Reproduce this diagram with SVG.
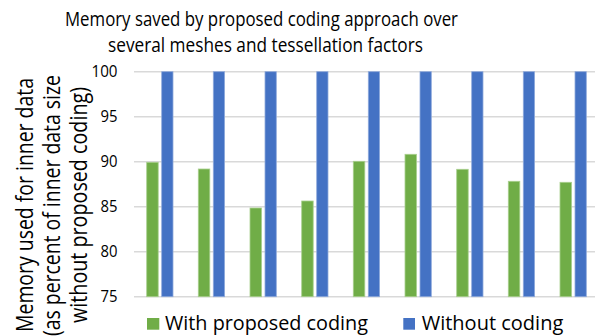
<svg xmlns="http://www.w3.org/2000/svg" width="595" height="336" viewBox="0 0 595 336">
<style>
text{font-family:"Open Sans","Noto Sans","Liberation Sans",sans-serif;fill:#000}
.title{font-size:20px}
.tick{font-size:16px;text-anchor:end}
.axt{font-size:23.5px;text-anchor:middle}
.leg{font-size:20.5px}
.grid{stroke:#D9D9D9;stroke-width:1.5}
.g{fill:#70AD47;stroke:#A9CF8E;stroke-width:0.8}
.b{fill:#4472C4;stroke:#8FAADC;stroke-width:0.8}
</style>
<rect width="595" height="336" fill="#fff"/>
<g id="title">
<text class="title" x="65" y="25.5" textLength="393" lengthAdjust="spacingAndGlyphs">Memory saved by proposed coding approach over</text>
<text class="title" x="108" y="51.5" textLength="315" lengthAdjust="spacingAndGlyphs">several meshes and tessellation factors</text>
</g>
<g id="gridlines">
<line class="grid" x1="134" y1="71.7" x2="595" y2="71.7"/>
<line class="grid" x1="134" y1="116.7" x2="595" y2="116.7"/>
<line class="grid" x1="134" y1="161.7" x2="595" y2="161.7"/>
<line class="grid" x1="134" y1="206.7" x2="595" y2="206.7"/>
<line class="grid" x1="134" y1="251.7" x2="595" y2="251.7"/>
<line class="grid" x1="134" y1="296.7" x2="595" y2="296.7"/>
</g>
<g id="y-axis">
<text class="tick" x="117.5" y="77.3" textLength="26" lengthAdjust="spacingAndGlyphs">100</text>
<text class="tick" x="117.5" y="122.3" textLength="17" lengthAdjust="spacingAndGlyphs">95</text>
<text class="tick" x="117.5" y="167.3" textLength="17" lengthAdjust="spacingAndGlyphs">90</text>
<text class="tick" x="117.5" y="212.3" textLength="17" lengthAdjust="spacingAndGlyphs">85</text>
<text class="tick" x="117.5" y="257.3" textLength="17" lengthAdjust="spacingAndGlyphs">80</text>
<text class="tick" x="117.5" y="302.3" textLength="17" lengthAdjust="spacingAndGlyphs">75</text>
<g id="y-axis-title">
<text class="axt" transform="translate(33 205) rotate(-90)" textLength="254" lengthAdjust="spacingAndGlyphs">Memory used for inner data</text>
<text class="axt" transform="translate(60 205.5) rotate(-90)" textLength="261" lengthAdjust="spacingAndGlyphs">(as percent of inner data size</text>
<text class="axt" transform="translate(87 205) rotate(-90)" textLength="236" lengthAdjust="spacingAndGlyphs">without proposed coding)</text>
</g>
</g>
<g id="series-with-coding">
<rect class="g" x="146.7" y="162.3" width="11.5" height="134.4"/>
<rect class="g" x="198.3" y="169" width="11.5" height="127.7"/>
<rect class="g" x="250" y="208" width="11.5" height="88.7"/>
<rect class="g" x="301.7" y="201" width="11.5" height="95.7"/>
<rect class="g" x="353.3" y="161.3" width="11.5" height="135.4"/>
<rect class="g" x="405" y="154.3" width="11.5" height="142.4"/>
<rect class="g" x="456.7" y="169.3" width="11.5" height="127.4"/>
<rect class="g" x="508.3" y="181.3" width="11.5" height="115.4"/>
<rect class="g" x="560" y="182.3" width="11.5" height="114.4"/>
</g>
<g id="series-without-coding">
<rect class="b" x="161.7" y="71.7" width="11.3" height="225"/>
<rect class="b" x="213.3" y="71.7" width="11.3" height="225"/>
<rect class="b" x="265" y="71.7" width="11.3" height="225"/>
<rect class="b" x="316.7" y="71.7" width="11.3" height="225"/>
<rect class="b" x="368.3" y="71.7" width="11.3" height="225"/>
<rect class="b" x="420" y="71.7" width="11.3" height="225"/>
<rect class="b" x="471.7" y="71.7" width="11.3" height="225"/>
<rect class="b" x="523.3" y="71.7" width="11.3" height="225"/>
<rect class="b" x="575" y="71.7" width="11.3" height="225"/>
</g>
<g id="legend">
<rect x="147" y="318" width="12.3" height="11.7" fill="#70AD47"/>
<text class="leg" x="165" y="330" textLength="203" lengthAdjust="spacingAndGlyphs">With proposed coding</text>
<rect x="403.3" y="318" width="11.7" height="11.7" fill="#4472C4"/>
<text class="leg" x="421.7" y="330" textLength="141.6" lengthAdjust="spacingAndGlyphs">Without coding</text>
</g>
</svg>
